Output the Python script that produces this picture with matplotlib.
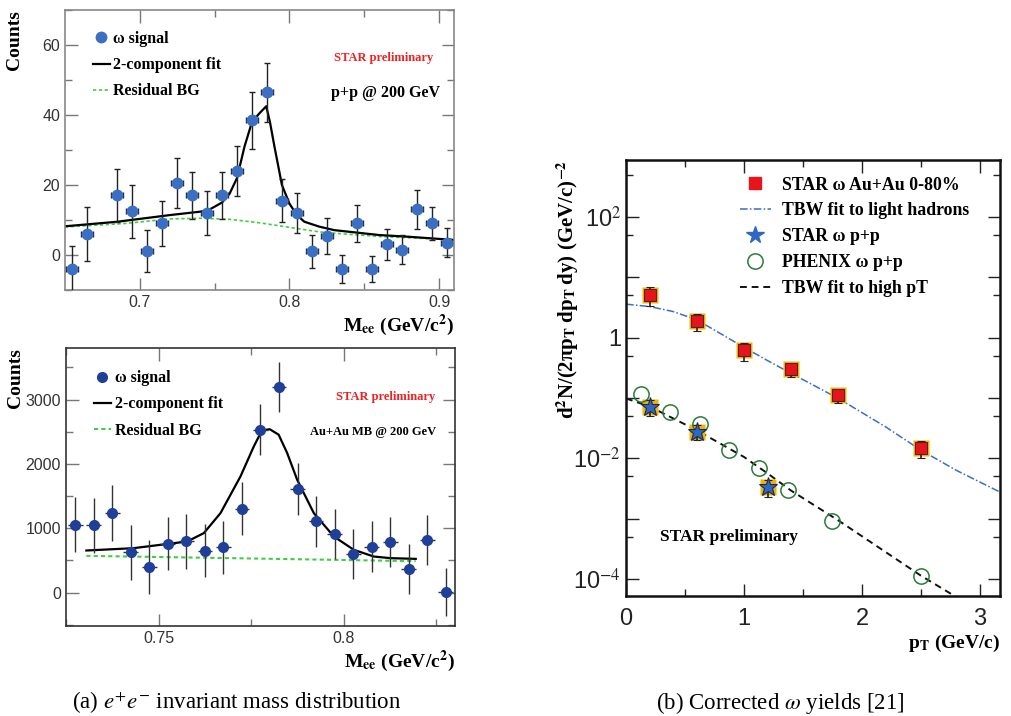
import numpy as np
import matplotlib
matplotlib.use("Agg")
import matplotlib.pyplot as plt
from matplotlib.ticker import MultipleLocator, FixedLocator, NullFormatter, FormatStrFormatter
from matplotlib.lines import Line2D

# ---- data: p+p invariant mass (top left)
pp_m = [0.655, 0.665, 0.685, 0.695, 0.705, 0.715, 0.725, 0.735, 0.745, 0.755, 0.765,
        0.775, 0.785, 0.795, 0.805, 0.815, 0.825, 0.835, 0.845, 0.855, 0.865, 0.875,
        0.885, 0.895, 0.905]
pp_counts = [-4.0, 6.0, 17.0, 12.5, 1.0, 9.0, 20.5, 17.0, 12.0, 17.0, 24.0, 38.5, 46.5,
             15.5, 12.0, 1.0, 5.5, -4.0, 9.0, -4.0, 3.0, 1.5, 13.0, 9.0, 3.5]
pp_err = [6.5, 7.8, 7.6, 7.6, 6.0, 6.4, 7.1, 6.8, 6.2, 6.8, 7.1, 8.2, 8.5, 6.2, 5.8,
          4.7, 5.1, 4.0, 5.2, 3.7, 4.4, 4.1, 5.5, 4.8, 4.2]
pp_fit_m = [0.650, 0.685, 0.720, 0.745, 0.755, 0.760, 0.765, 0.770, 0.775, 0.780, 0.7845,
            0.787, 0.790, 0.795, 0.800, 0.805, 0.810, 0.820, 0.830, 0.845, 0.860, 0.880, 0.910]
pp_fit = [8.2, 9.5, 11.4, 12.6, 15.0, 17.5, 22.0, 31.0, 38.0, 40.5, 42.5, 38.0, 31.0,
          20.0, 14.7, 11.4, 9.5, 8.1, 7.1, 6.4, 5.7, 5.2, 4.3]
pp_bg_m = [0.650, 0.690, 0.720, 0.740, 0.760, 0.780, 0.800, 0.820, 0.840, 0.860, 0.880, 0.910]
pp_bg = [8.0, 9.0, 10.3, 10.5, 10.2, 9.2, 7.9, 6.6, 5.9, 5.3, 4.9, 4.4]

# ---- data: Au+Au invariant mass (bottom left)
auau_m = [0.7275, 0.7325, 0.7375, 0.7425, 0.7475, 0.7525, 0.7575, 0.7625, 0.7675, 0.7725,
          0.7775, 0.7825, 0.7875, 0.7925, 0.7975, 0.8025, 0.8075, 0.8125, 0.8175, 0.8225, 0.8275]
auau_counts = [1054, 1043, 1235, 628, 405, 758, 794, 654, 706, 1303, 2533, 3192, 1609,
               1106, 908, 597, 716, 784, 368, 820, 5]
auau_err = [430, 430, 430, 430, 420, 410, 425, 410, 410, 410, 400, 390, 400, 390, 390,
            390, 390, 390, 385, 390, 370]
auau_fit_m = [0.7305, 0.7432, 0.7577, 0.7622, 0.7667, 0.7721, 0.7757, 0.7779, 0.7800,
              0.7824, 0.7847, 0.7874, 0.7919, 0.7973, 0.8027, 0.8081, 0.8126, 0.8194]
auau_fit = [654, 690, 794, 924, 1235, 1806, 2273, 2522, 2540, 2455, 2170, 1754, 1235,
            872, 664, 560, 535, 524]
auau_bg_m = [0.7305, 0.775, 0.8194]
auau_bg = [571, 530, 488]

# ---- data: corrected omega yields (right)
au_pt = [0.2, 0.6, 1.0, 1.4, 1.8, 2.5]
au_y = [5.1, 1.89, 0.62, 0.298, 0.110, 0.0150]
au_hi = [6.8, 2.47, 0.805, 0.37, 0.137, 0.0190]
au_lo = [3.4, 1.29, 0.415, 0.22, 0.081, 0.0100]

star_pp_pt = [0.2, 0.6, 1.2]
star_pp_y = [0.0713, 0.0274, 0.00334]
star_pp_hi = [0.0935, 0.0355, 0.0043]
star_pp_lo = [0.0505, 0.0204, 0.00227]

phenix_pt = [0.124, 0.373, 0.627, 0.873, 1.127, 1.370, 1.749, 2.5]
phenix_y = [0.116, 0.0589, 0.0367, 0.0139, 0.0070, 0.00301, 0.00091, 0.000113]

tbw_light_pt = [0.0, 0.2, 0.4, 0.6, 1.0, 1.2, 1.4, 1.8, 2.2, 2.5, 2.8, 3.17]
tbw_light = [3.58, 3.27, 2.7, 1.97, 0.69, 0.415, 0.255, 0.098, 0.0332, 0.0136, 0.0063, 0.00275]

tbw_high_pt = [0.0, 0.2, 0.6, 1.0, 1.2, 1.4, 1.8, 2.5, 3.0]
tbw_high = [0.098, 0.072, 0.029, 0.0105, 0.0056, 0.0029, 0.00093, 0.000113, 2.9e-5]

serif = "Liberation Serif"
sans = "Liberation Sans"
plt.rcParams['mathtext.fontset'] = 'stix'

fig = plt.figure(figsize=(10.12, 7.16), dpi=100)


def style_left(ax, col):
    for s in ax.spines.values():
        s.set_color(col)
        s.set_linewidth(1.2)
    ax.tick_params(which='both', direction='in', top=True, right=True, colors='#777777',
                   labelcolor='#333333', labelsize=11.5, width=1.0)
    ax.tick_params(which='major', length=9)
    ax.tick_params(which='minor', length=5)
    for lab in ax.get_xticklabels() + ax.get_yticklabels():
        lab.set_family(sans)


def label_top(ax, x):
    ax.yaxis.set_label_coords(x, 1.0)
    ax.yaxis.label.set_ha('right')
    ax.yaxis.label.set_va('center')


leg_font = {'family': serif, 'weight': 'bold', 'size': 11.5}

# ---------------- top left
ax1 = fig.add_axes([0.0642, 0.595, 0.3844, 0.391])
ax1.errorbar(pp_m, pp_counts, yerr=pp_err, xerr=0.004, fmt='none',
             ecolor='#222222', elinewidth=1.0, capsize=2, capthick=1.0, zorder=3)
ax1.plot(pp_m, pp_counts, 'o', color='#3a6fc4', ms=7.5, zorder=4)
ax1.plot(pp_fit_m, pp_fit, color='black', lw=1.6, zorder=2)
ax1.plot(pp_bg_m, pp_bg, color='#44cc44', lw=1.2, ls=(0, (2, 1.5)), zorder=1)
ax1.set_xlim(0.65, 0.91)
ax1.set_ylim(-10, 70)
ax1.xaxis.set_major_locator(FixedLocator([0.7, 0.8, 0.9]))
ax1.xaxis.set_minor_locator(FixedLocator([0.75, 0.85]))
ax1.yaxis.set_major_locator(MultipleLocator(20))
ax1.yaxis.set_minor_locator(MultipleLocator(10))
style_left(ax1, '#888888')
ax1.set_ylabel('Counts', family=serif, weight='bold', fontsize=14)
label_top(ax1, -0.131)
ax1.set_xlabel('M$_{\\mathbf{ee}}$ (GeV/c$^{\\mathbf{2}}$)', family=serif, weight='bold',
               fontsize=14, ha='right', x=1.0, labelpad=2)
h1 = [Line2D([], [], marker='o', ls='none', color='#3a6fc4', ms=7.5),
      Line2D([], [], color='black', lw=1.6),
      Line2D([], [], color='#44cc44', lw=1.2, ls=(0, (2, 1.5)))]
ax1.legend(h1, ['ω signal', '2-component fit', 'Residual BG'], loc='upper left',
           bbox_to_anchor=(0.072, 0.925), frameon=False, borderpad=0, borderaxespad=0,
           handlelength=1.06, handletextpad=0.2, labelspacing=0.64, prop=leg_font)
ax1.text(0.946, 0.83, 'STAR preliminary', transform=ax1.transAxes, color='#ee2222',
         family=serif, weight='bold', fontsize=9, ha='right', va='center')
ax1.text(0.964, 0.705, 'p+p @ 200 GeV', transform=ax1.transAxes, color='black',
         family=serif, weight='bold', fontsize=11.5, ha='right', va='center')

# ---------------- bottom left
ax2 = fig.add_axes([0.0652, 0.1257, 0.3844, 0.388])
ax2.errorbar(auau_m, auau_counts, yerr=auau_err, xerr=0.002, fmt='none',
             ecolor='#333333', elinewidth=1.0, capsize=0, zorder=3)
ax2.plot(auau_m, auau_counts, 'o', color='#1f3f99', ms=7, zorder=4)
ax2.plot(auau_fit_m, auau_fit, color='black', lw=1.6, zorder=2)
ax2.plot(auau_bg_m, auau_bg, color='#44cc44', lw=1.5, ls=(0, (2, 1.5)), zorder=1)
ax2.set_xlim(0.725, 0.83)
ax2.set_ylim(-520, 3800)
ax2.xaxis.set_major_locator(FixedLocator([0.75, 0.8]))
ax2.xaxis.set_minor_locator(FixedLocator([0.725, 0.775, 0.825]))
ax2.xaxis.set_major_formatter(FormatStrFormatter('%g'))
ax2.yaxis.set_major_locator(MultipleLocator(1000))
ax2.yaxis.set_minor_locator(MultipleLocator(500))
style_left(ax2, '#333333')
ax2.set_ylabel('Counts', family=serif, weight='bold', fontsize=14)
label_top(ax2, -0.131)
ax2.set_xlabel('M$_{\\mathbf{ee}}$ (GeV/c$^{\\mathbf{2}}$)', family=serif, weight='bold',
               fontsize=14, ha='right', x=1.0, labelpad=2)
h2 = [Line2D([], [], marker='o', ls='none', color='#1f3f99', ms=7),
      Line2D([], [], color='black', lw=1.6),
      Line2D([], [], color='#44cc44', lw=1.5, ls=(0, (2, 1.5)))]
ax2.legend(h2, ['ω signal', '2-component fit', 'Residual BG'], loc='upper left',
           bbox_to_anchor=(0.072, 0.921), frameon=False, borderpad=0, borderaxespad=0,
           handlelength=1.06, handletextpad=0.25, labelspacing=0.64, prop=leg_font)
ax2.text(0.949, 0.825, 'STAR preliminary', transform=ax2.transAxes, color='#ee2222',
         family=serif, weight='bold', fontsize=9, ha='right', va='center')
ax2.text(0.951, 0.70, 'Au+Au MB @ 200 GeV', transform=ax2.transAxes, color='black',
         family=serif, weight='bold', fontsize=9, ha='right', va='center')

# ---------------- right: corrected yields
ax3 = fig.add_axes([0.6186, 0.1676, 0.3695, 0.609])
ax3.set_yscale('log')
ax3.plot(tbw_light_pt, tbw_light, color='#3a6fc4', lw=1.1, ls=(0, (5, 1.5, 1, 1.5)), zorder=1)
ax3.plot(tbw_high_pt, tbw_high, color='#111111', lw=1.4, ls=(0, (3.5, 2.5)), zorder=1)
au_y = np.array(au_y)
ax3.plot(au_pt, au_y, 's', color='#f4b400', ms=12, mec='none', zorder=2)
ax3.errorbar(au_pt, au_y, yerr=[au_y - np.array(au_lo), np.array(au_hi) - au_y], fmt='s',
             color='#e8141c', mec='#552222', mew=0.8, ms=8.5, ecolor='#222222',
             elinewidth=1.2, capsize=3, capthick=1.2, zorder=3)
star_pp_y = np.array(star_pp_y)
ax3.plot(star_pp_pt, star_pp_y, 's', color='#f4b400', ms=12, mec='none', zorder=2)
ax3.errorbar(star_pp_pt, star_pp_y, yerr=[star_pp_y - np.array(star_pp_lo),
             np.array(star_pp_hi) - star_pp_y], fmt='*', color='#2f68c0', mec='#1a2a55',
             mew=0.8, ms=14, ecolor='#222222', elinewidth=1.2, capsize=3, capthick=1.2, zorder=4)
ax3.plot(phenix_pt, phenix_y, 'o', mfc='none', mec='#2b7a3a', mew=1.1, ms=11, zorder=3)
ax3.set_xlim(0, 3.17)
ax3.set_ylim(5.2e-5, 880)
ax3.xaxis.set_major_locator(MultipleLocator(1))
ax3.xaxis.set_minor_locator(MultipleLocator(0.5))
ax3.yaxis.set_major_locator(FixedLocator([1e-4, 1e-3, 1e-2, 1e-1, 1, 1e1, 1e2]))
ax3.yaxis.set_minor_locator(FixedLocator([5e-5, 5e-4, 5e-3, 5e-2, 5e-1, 5, 50, 500]))
ax3.yaxis.set_minor_formatter(NullFormatter())
ax3.set_yticklabels(['10$^{-4}$', '', '10$^{-2}$', '', '1', '', '10$^{2}$'])
for s in ax3.spines.values():
    s.set_linewidth(1.8)
    s.set_color('#111111')
ax3.tick_params(which='both', direction='in', top=True, right=True, labelsize=17, width=1.0,
                colors='#222222')
ax3.tick_params(which='major', length=9)
ax3.tick_params(which='minor', length=5)
ax3.tick_params(axis='x', pad=9)
for lab in ax3.get_xticklabels() + ax3.get_yticklabels():
    lab.set_family(sans)
ax3.set_ylabel('d$^{\\mathbf{2}}$N/(2πp$_{\\mathbf{T}}$\u2009dp$_{\\mathbf{T}}$\u2009dy) (GeV/c)$^{\\mathbf{-2}}$',
               family=serif, weight='bold', fontsize=15)
label_top(ax3, -0.155)
ax3.set_xlabel('p$_{\\mathbf{T}}$ (GeV/c)', family=serif, weight='bold', fontsize=14,
               ha='right', x=1.0, labelpad=2)
h3 = [Line2D([], [], marker='s', ls='none', color='#e8141c', ms=8.5),
      Line2D([], [], color='#3a6fc4', lw=1.1, ls=(0, (5, 1.5, 1, 1.5))),
      Line2D([], [], marker='*', ls='none', color='#2f68c0', ms=13),
      Line2D([], [], marker='o', ls='none', mfc='none', mec='#2b7a3a', mew=1.1, ms=11),
      Line2D([], [], color='#111111', lw=1.4, ls=(0, (3.5, 2.5)))]
ax3.legend(h3, ['STAR ω Au+Au 0-80%', 'TBW fit to light hadrons', 'STAR ω p+p',
                'PHENIX ω p+p', 'TBW fit to high pT'], loc='upper left',
           bbox_to_anchor=(0.305, 0.962), frameon=False, borderpad=0, borderaxespad=0,
           handlelength=1.73, handletextpad=0.63, labelspacing=0.5,
           prop={'family': serif, 'weight': 'bold', 'size': 12.8})
ax3.text(0.09, 0.135, 'STAR preliminary', transform=ax3.transAxes, family=serif,
         weight='bold', fontsize=12.5, ha='left', va='center')

# ---------------- captions
fig.text(0.234, 0.018, '(a) $e^{+}e^{-}$ invariant mass distribution', family=serif,
         fontsize=16.5, ha='center', va='center')
fig.text(0.771, 0.018, '(b) Corrected $\\omega$ yields [21]', family=serif,
         fontsize=16.5, ha='center', va='center')

fig.savefig('out.png', dpi=100)
